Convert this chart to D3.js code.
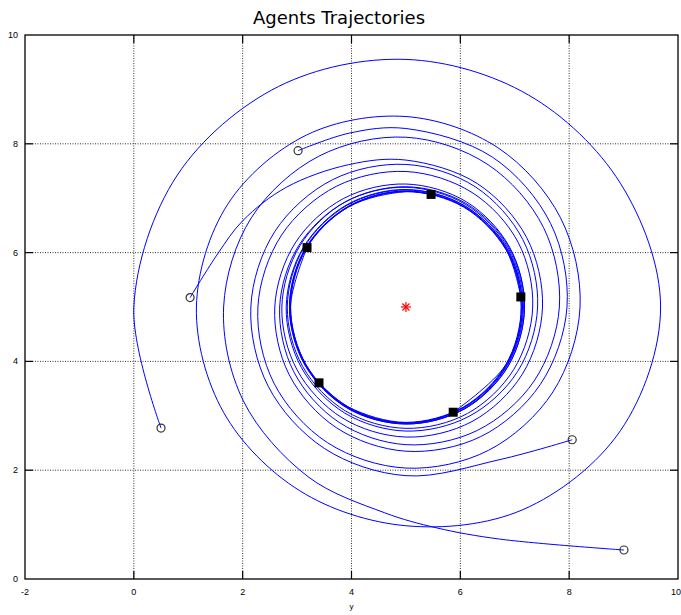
<!DOCTYPE html>
<html>
<head>
<meta charset="utf-8">
<script src="https://cdn.jsdelivr.net/npm/d3@7"></script>
<style>
  html, body { margin: 0; padding: 0; background: #fff; }
  svg { display: block; }
  text { font-family: "Liberation Sans", Arial, sans-serif; }
  text.title { font-family: "DejaVu Sans", sans-serif; }
</style>
</head>
<body>
<svg id="chart" width="681" height="615"></svg>
<script>
// Axis ranges and tick labels
const xTicks = [-2, 0, 2, 4, 6, 8, 10];
const yTicks = [0, 2, 4, 6, 8, 10];
const xDomain = [-2, 10];
const yDomain = [0, 10];

// Orbit centre (target point)
const target = [5, 5];

// Agent trajectories as [heading in degrees clockwise from north (cumulative), distance from target]
const agent1 = [[272.5,3.97],[286,3.59],[298,3.39],[315,3.11],[338,2.82],[360,2.7],[390,2.62],[420,2.56],[450,2.51],[480,2.47],[510,2.43],[540,2.39],[570,2.35],[600,2.31],[630,2.28],[660,2.25],[690,2.23],[720,2.21],[750,2.2],[780,2.19],[810,2.18],[840,2.17],[870,2.16],[900,2.15],[930,2.15],[960,2.14],[990,2.14],[1020,2.14],[1050,2.13],[1080,2.13],[1110,2.13],[1140,2.13],[1170,2.12],[1200,2.12],[1230,2.12],[1260,2.12],[1290,2.12],[1308.9,2.12]];
const agent2 = [[325.4,3.49],[342,3.36],[360,3.28],[390,3.18],[420,3.07],[450,2.96],[480,2.85],[510,2.75],[540,2.65],[570,2.56],[600,2.48],[630,2.41],[660,2.35],[690,2.3],[720,2.26],[750,2.23],[780,2.2],[810,2.18],[840,2.17],[870,2.16],[900,2.15],[930,2.14],[960,2.14],[990,2.14],[1020,2.13],[1050,2.13],[1080,2.13],[1110,2.13],[1140,2.12],[1170,2.12],[1200,2.12],[1235.8,2.12]];
const agent3 = [[243.7,5.02],[270,5.0],[300,4.85],[330,4.68],[360,4.55],[390,4.5],[420,4.55],[450,4.68],[480,4.55],[510,4.3],[540,4.02],[570,3.9],[600,3.87],[630,3.85],[660,3.78],[690,3.65],[720,3.5],[750,3.38],[780,3.28],[810,3.2],[840,3.12],[870,3.04],[900,2.96],[930,2.88],[960,2.8],[990,2.72],[1020,2.64],[1050,2.56],[1080,2.49],[1110,2.43],[1140,2.38],[1170,2.33],[1200,2.29],[1230,2.26],[1260,2.23],[1290,2.21],[1320,2.19],[1350,2.18],[1380,2.17],[1410,2.16],[1440,2.15],[1470,2.15],[1500,2.14],[1530,2.14],[1560,2.13],[1590,2.13],[1620,2.13],[1650,2.12],[1680,2.12],[1710,2.12],[1741,2.12]];
const agent4 = [[128.6,3.91],[148,3.3],[180,3.1],[210,3.0],[240,2.92],[270,2.85],[300,2.78],[330,2.7],[360,2.62],[390,2.55],[420,2.48],[450,2.42],[480,2.37],[510,2.32],[540,2.28],[570,2.25],[600,2.22],[630,2.2],[660,2.18],[690,2.17],[720,2.16],[750,2.15],[780,2.15],[810,2.14],[840,2.14],[870,2.13],[900,2.13],[930,2.13],[960,2.12],[990,2.12],[1020,2.12],[1050,2.12],[1080,2.12],[1092.6,2.12]];
const agent5 = [[138.1,6.0],[158,4.6],[172,4.1],[186,3.8],[210,3.6],[240,3.45],[270,3.35],[300,3.28],[330,3.2],[360,3.12],[390,3.02],[420,2.92],[450,2.82],[480,2.72],[510,2.62],[540,2.53],[570,2.45],[600,2.38],[630,2.32],[660,2.27],[690,2.23],[720,2.2],[750,2.18],[780,2.17],[810,2.16],[840,2.15],[870,2.15],[900,2.14],[930,2.14],[960,2.13],[990,2.13],[1020,2.13],[1050,2.12],[1080,2.12],[1110,2.12],[1140,2.12],[1165,2.12]];
const trajectories = [agent1, agent2, agent3, agent4, agent5];

const svg = d3.select("#chart");
const margin = { left: 25, right: 3, top: 35, bottom: 36 };
const W = 681, H = 615;

const x = d3.scaleLinear().domain(xDomain).range([margin.left, W - margin.right]);
const y = d3.scaleLinear().domain(yDomain).range([H - margin.bottom, margin.top]);
// distance scale in pixels (equal aspect)
const r = d3.scaleLinear().domain([0, 1]).range([0, x(1) - x(0)]);

const plotW = x(10) - x(-2), plotH = y(0) - y(10);

// Grid
const grid = svg.append("g");
grid.selectAll(".gx").data(xTicks.slice(1, -1)).join("line")
  .attr("x1", d => x(d)).attr("x2", d => x(d))
  .attr("y1", y(0)).attr("y2", y(10))
  .attr("stroke", "#333").attr("stroke-width", 1).attr("stroke-dasharray", "1,1.5");
grid.selectAll(".gy").data(yTicks.slice(1, -1)).join("line")
  .attr("y1", d => y(d)).attr("y2", d => y(d))
  .attr("x1", x(-2)).attr("x2", x(10))
  .attr("stroke", "#333").attr("stroke-width", 1).attr("stroke-dasharray", "1,1.5");

// Trajectories
const lineRad = d3.lineRadial()
  .angle(d => d[0] * Math.PI / 180)
  .radius(d => r(d[1]))
  .curve(d3.curveCatmullRom.alpha(0.5));

const tg = svg.append("g").attr("transform", `translate(${x(target[0])},${y(target[1])})`);
tg.selectAll("path.traj").data(trajectories).join("path")
  .attr("class", "traj")
  .attr("d", lineRad)
  .attr("fill", "none")
  .attr("stroke", "#0000ff")
  .attr("stroke-width", 1);

// Point from polar reading
const px = d => r(d[1]) * Math.sin(d[0] * Math.PI / 180);
const py = d => -r(d[1]) * Math.cos(d[0] * Math.PI / 180);

// Start markers
tg.selectAll("circle.start").data(trajectories.map(t => t[0])).join("circle")
  .attr("cx", px).attr("cy", py).attr("r", 4)
  .attr("fill", "none").attr("stroke", "#333").attr("stroke-width", 1.2);

// End markers
tg.selectAll("rect.end").data(trajectories.map(t => t[t.length - 1])).join("rect")
  .attr("x", d => px(d) - 4.5).attr("y", d => py(d) - 4.5)
  .attr("width", 9).attr("height", 9).attr("fill", "#000");

// Target star
const star = svg.append("g").attr("transform", `translate(${x(target[0])},${y(target[1])})`);
[[-5,0,5,0],[0,-5,0,5],[-3.5,-3.5,3.5,3.5],[-3.5,3.5,3.5,-3.5]].forEach(s => {
  star.append("line").attr("x1", s[0]).attr("y1", s[1]).attr("x2", s[2]).attr("y2", s[3])
    .attr("stroke", "#ff0000").attr("stroke-width", 1.2);
});

// Frame
svg.append("rect").attr("x", x(-2)).attr("y", y(10)).attr("width", plotW).attr("height", plotH)
  .attr("fill", "none").attr("stroke", "#000").attr("stroke-width", 1.3);

// Inner tick marks
const tk = svg.append("g").attr("stroke", "#000").attr("stroke-width", 1.2);
xTicks.slice(1, -1).forEach(t => {
  tk.append("line").attr("x1", x(t)).attr("x2", x(t)).attr("y1", y(0)).attr("y2", y(0) - 8);
  tk.append("line").attr("x1", x(t)).attr("x2", x(t)).attr("y1", y(10)).attr("y2", y(10) + 8);
});
yTicks.slice(1, -1).forEach(t => {
  tk.append("line").attr("y1", y(t)).attr("y2", y(t)).attr("x1", x(-2)).attr("x2", x(-2) + 8);
  tk.append("line").attr("y1", y(t)).attr("y2", y(t)).attr("x1", x(10)).attr("x2", x(10) - 8);
});

// Tick labels
svg.append("g").selectAll("text").data(xTicks).join("text")
  .attr("x", d => x(d)).attr("y", y(0) + 16)
  .attr("text-anchor", d => d === 10 ? "end" : "middle").attr("font-size", 9)
  .attr("dx", d => d === 10 ? 3 : 0).text(d => d);
svg.append("g").selectAll("text").data(yTicks).join("text")
  .attr("x", x(-2) - 7).attr("y", d => y(d) + 3)
  .attr("text-anchor", "end").attr("font-size", 9).text(d => d);

// Titles
svg.append("text").attr("class", "title").attr("x", 339).attr("y", 24).attr("text-anchor", "middle")
  .attr("font-size", 18).text("Agents Trajectories");
svg.append("text").attr("x", (x(-2) + x(10)) / 2).attr("y", 609).attr("text-anchor", "middle")
  .attr("font-size", 8).text("y");
</script>
</body>
</html>
